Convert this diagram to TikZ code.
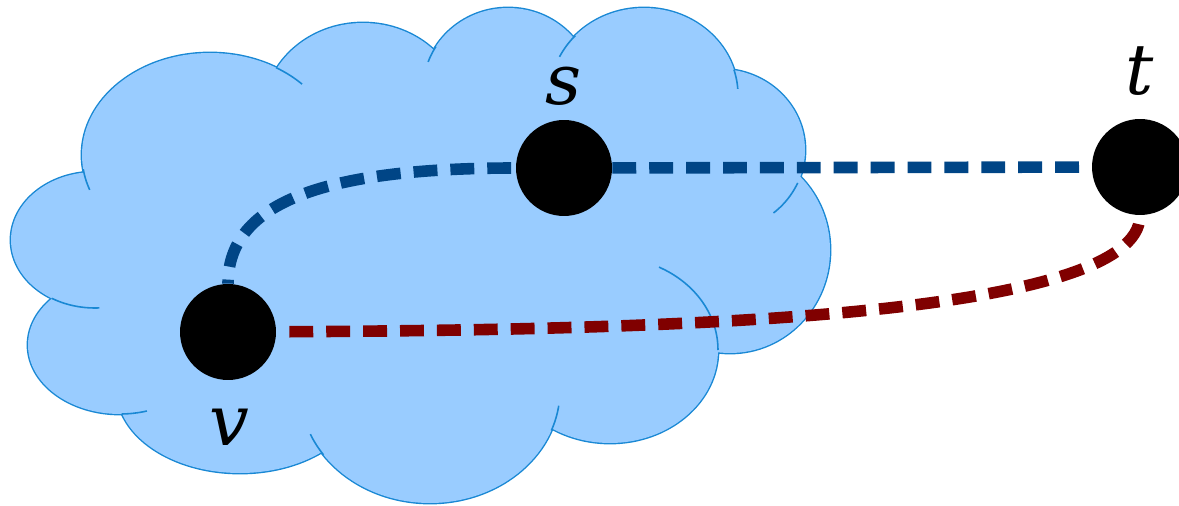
\documentclass[tikz,border=0pt]{standalone}
\usepackage{fontspec}
\setmainfont{DejaVu Serif}
\usepackage{tikz}
\usetikzlibrary{positioning}
\definecolor{cloudfill}{RGB}{153,204,255}
\definecolor{cloudline}{RGB}{25,136,212}
\definecolor{pathblue}{RGB}{0,69,134}
\definecolor{pathred}{RGB}{128,0,0}
\pgfdeclarelayer{cloudlayer}
\pgfdeclarelayer{pathlayer}
\pgfsetlayers{cloudlayer,pathlayer,main}

\begin{document}
\begin{tikzpicture}[x=0.02cm,y=-0.02cm,
  vertex/.style={circle,fill=black,minimum size=1.92cm,inner sep=0pt},
  lbl/.style={font=\fontsize{40}{48}\selectfont\itshape,anchor=base,inner sep=0pt},
  route/.style={line width=6.6pt,dash pattern=on 13.6pt off 7.4pt}]
\useasboundingbox (0,0) rectangle (1179,506);
\begin{pgfonlayer}{cloudlayer}
\foreach \cx/\cy/\rx/\ry in {95/240/84/68,120/345/92/69,240/390/123/83,430/390/130/113,610/350/108/93,730/250/100/103,720/150/85/81,644/95/94/87,508/90/85/82,363/115/100/92,210/155/128/102}
  \draw[cloudline,fill=cloudfill,line width=1.6pt] (\cx,\cy) ellipse [x radius=\rx,y radius=\ry];
\fill[cloudfill] (420,260) ellipse [x radius=330,y radius=170];
\foreach \cx/\cy/\rx/\ry in {95/240/84/68,120/345/92/69,240/390/123/83,430/390/130/113,610/350/108/93,730/250/100/103,720/150/85/81,644/95/94/87,508/90/85/82,363/115/100/92,210/155/128/102}
  \fill[cloudfill] (\cx,\cy) ellipse [x radius=\rx,y radius=\ry];
\foreach \cx/\cy/\rx/\ry/\a/\b in {210/155/128/102/-59/-44,508/90/85/82/200/212,644/95/94/87/206/223,644/95/94/87/-17/-4,720/150/85/81/24/51,610/350/108/93/-63/0,430/390/130/113/8/21,430/390/130/113/145/157,120/345/92/69/73/89,95/240/84/68/87/121,210/155/128/102/160/172}
  \draw[cloudline,line width=0.9pt] plot[domain=\a:\b,variable=\t,samples=20,smooth] ({\cx+\rx*cos(\t)},{\cy+\ry*sin(\t)});
\end{pgfonlayer}
\node[vertex] (v) at (228,332) {};
\node[vertex] (s) at (564,168) {};
\node[vertex] (t) at (1140,167) {};
\node[lbl] (slbl) at (564,105) {s};
\node[lbl] (tlbl) at (1140,95) {t};
\node[lbl] (vlbl) at (229,445) {v};
\begin{pgfonlayer}{pathlayer}
\draw[route,pathblue,dash phase=11.3pt] (v) .. controls (228,200) and (330,168) .. (s);
\draw[route,pathblue] (s) -- (t);
\draw[route,pathred,dash phase=13.6pt] (v) .. controls (650,330) and (1140,320) .. (t);
\end{pgfonlayer}
\end{tikzpicture}
\end{document}
